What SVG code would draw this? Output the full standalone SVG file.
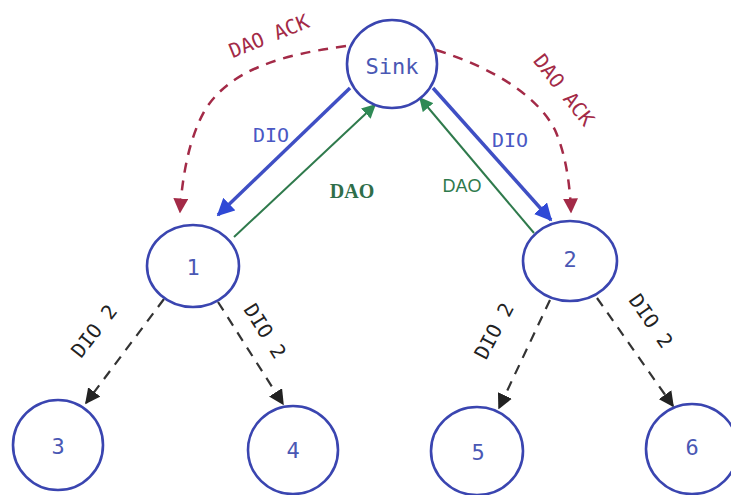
<svg xmlns="http://www.w3.org/2000/svg" width="731" height="495" viewBox="0 0 731 495">
<style>
.node{fill:#fff;stroke:#3a45b0;stroke-width:2.6}
.nt{font-family:"DejaVu Sans Mono",monospace;font-size:22px;fill:#4a58b4;text-anchor:middle;dominant-baseline:central}
.lbl{font-family:"DejaVu Sans Mono",monospace;font-size:20px;text-anchor:middle;dominant-baseline:central}
.blue{stroke:#3f4fc4;stroke-width:3.5;fill:none}
.green{stroke:#2f7a4c;stroke-width:2;fill:none}
.red{stroke:#a32a47;stroke-width:2.5;fill:none;stroke-dasharray:10 8}
.blk{stroke:#333;stroke-width:2.2;fill:none;stroke-dasharray:10 8}
</style>
<defs>
<marker id="ab" viewBox="0 0 10 10" refX="9" refY="5" markerWidth="5" markerHeight="5" orient="auto" markerUnits="strokeWidth"><path d="M0,0L10,5L0,10z" fill="#2f49d6"/></marker>
<marker id="ag" viewBox="0 0 10 10" refX="9" refY="5" markerWidth="7" markerHeight="7" orient="auto" markerUnits="strokeWidth"><path d="M0,0L10,5L0,10z" fill="#2f8a55"/></marker>
<marker id="ar" viewBox="0 0 10 10" refX="9" refY="5" markerWidth="6" markerHeight="6" orient="auto" markerUnits="strokeWidth"><path d="M0,0L10,5L0,10z" fill="#a32a47"/></marker>
<marker id="ak" viewBox="0 0 10 10" refX="9" refY="5" markerWidth="7" markerHeight="7" orient="auto" markerUnits="strokeWidth"><path d="M0,0L10,5L0,10z" fill="#222"/></marker>
</defs>
<rect width="731" height="495" fill="#fff"/>
<g id="connectors">
<line class="blue" x1="350" y1="88" x2="218" y2="215" marker-end="url(#ab)"/>
<line class="green" x1="234" y1="237" x2="375" y2="105" marker-end="url(#ag)"/>
<line class="blue" x1="433" y1="88" x2="551" y2="220" marker-end="url(#ab)"/>
<line class="green" x1="534" y1="233" x2="420" y2="98" marker-end="url(#ag)"/>
<path class="red" d="M346,46 C280,55 230,70 205,110 C188,140 182,180 180,212" marker-end="url(#ar)"/>
<path class="red" d="M436,50 C500,70 540,100 555,130 C566,155 570,185 571,212" marker-end="url(#ar)"/>
<line class="blk" x1="164" y1="299" x2="86" y2="403" marker-end="url(#ak)"/>
<line class="blk" x1="218" y1="302" x2="283" y2="404" marker-end="url(#ak)"/>
<line class="blk" x1="550" y1="300" x2="499" y2="408" marker-end="url(#ak)"/>
<line class="blk" x1="597" y1="298" x2="673" y2="406" marker-end="url(#ak)"/>
<text class="lbl" x="271" y="135" fill="#4a58c4">DIO</text>
<text class="lbl" x="510" y="140" fill="#4a58c4">DIO</text>
<text x="352" y="191" font-family="'Liberation Serif',serif" font-weight="bold" font-size="20" fill="#2f6e4a" text-anchor="middle" dominant-baseline="central">DAO</text>
<text x="462" y="186" font-family="'Liberation Sans Narrow','Liberation Sans',sans-serif" font-size="18" fill="#2f7a4c" text-anchor="middle" dominant-baseline="central">DAO</text>
<text class="lbl" x="269" y="36" fill="#a32a47" font-size="21" transform="rotate(-22 269 36)">DAO ACK</text>
<text class="lbl" x="564" y="90" fill="#a32a47" font-size="21" transform="rotate(52 564 90)">DAO ACK</text>
<text class="lbl" x="94" y="331" fill="#222" transform="rotate(-52 94 331)">DIO 2</text>
<text class="lbl" x="265" y="331" fill="#222" transform="rotate(58 265 331)">DIO 2</text>
<text class="lbl" x="494" y="331" fill="#222" transform="rotate(-62 494 331)">DIO 2</text>
<text class="lbl" x="651" y="321" fill="#222" transform="rotate(55 651 321)">DIO 2</text>
</g>
<g id="sink"><ellipse class="node" cx="392" cy="64" rx="45" ry="44"/><text class="nt" x="392" y="66">Sink</text></g>
<g id="n1"><ellipse class="node" cx="193" cy="266" rx="46" ry="41"/><text class="nt" x="193" y="267">1</text></g>
<g id="n2"><ellipse class="node" cx="570" cy="261" rx="47" ry="40"/><text class="nt" x="570" y="259">2</text></g>
<g id="n3"><ellipse class="node" cx="58" cy="445" rx="45" ry="45"/><text class="nt" x="58" y="446">3</text></g>
<g id="n4"><ellipse class="node" cx="293" cy="450" rx="45" ry="44"/><text class="nt" x="293" y="450">4</text></g>
<g id="n5"><ellipse class="node" cx="477" cy="451" rx="46" ry="44"/><text class="nt" x="478" y="452">5</text></g>
<g id="n6"><ellipse class="node" cx="692" cy="449" rx="46" ry="45"/><text class="nt" x="692" y="447">6</text></g>
</svg>
